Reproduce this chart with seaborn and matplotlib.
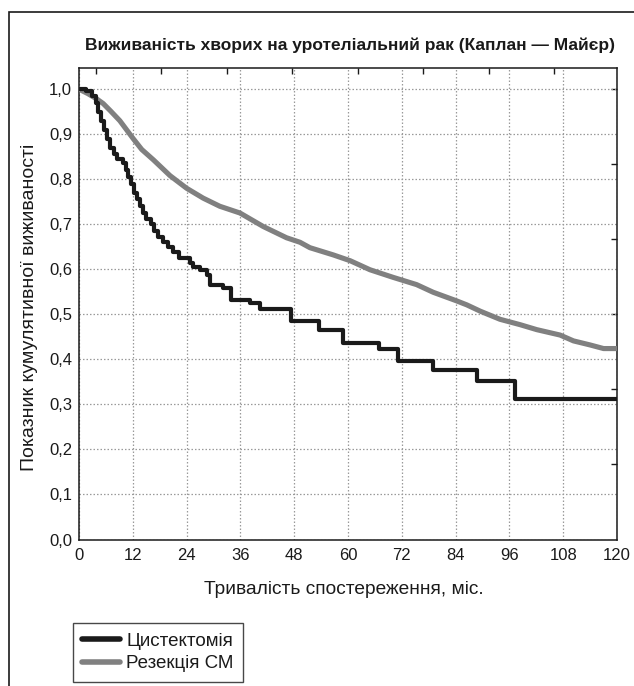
import matplotlib
matplotlib.use("Agg")
import matplotlib.pyplot as plt
from matplotlib import font_manager
from matplotlib.patches import Rectangle
import seaborn as sns
import pandas as pd

# ---- data ----
cyst_t = [0, 1.5, 3.0, 3.7, 4.3, 4.9, 5.5, 6.2, 7.0, 7.8, 8.5, 9.8, 10.4, 11.0, 11.7,
          12.3, 13.0, 13.7, 14.3, 15.0, 16.0, 16.8, 17.7, 18.8, 19.9, 21.0, 22.3, 24.8,
          25.5, 27.0, 28.5, 29.3, 32.2, 33.8, 38.1, 40.4, 47.2, 53.5, 58.8, 67.0, 71.1,
          79.0, 88.7, 97.3, 120]
cyst_s = [1.0, 0.995, 0.985, 0.97, 0.95, 0.93, 0.91, 0.89, 0.87, 0.855, 0.845, 0.835,
          0.82, 0.805, 0.79, 0.77, 0.755, 0.74, 0.725, 0.712, 0.70, 0.685, 0.672, 0.66,
          0.65, 0.638, 0.626, 0.614, 0.606, 0.598, 0.588, 0.566, 0.558, 0.532, 0.526,
          0.512, 0.486, 0.465, 0.437, 0.422, 0.396, 0.376, 0.352, 0.311, 0.311]

res_t = [0, 2, 4, 5.4, 7, 9.1, 12.1, 14, 16.6, 20.3, 24, 27.7, 31.4, 35.9, 41.1, 46.3,
         49.3, 51.5, 56.7, 60.5, 64.9, 70.1, 75.3, 79, 84.2, 86.5, 89.5, 93.9, 98.4,
         102.1, 107.3, 110.3, 114, 117, 120]
res_s = [1.0, 0.99, 0.978, 0.968, 0.952, 0.93, 0.89, 0.866, 0.843, 0.808, 0.78, 0.758,
         0.74, 0.725, 0.695, 0.67, 0.66, 0.648, 0.632, 0.619, 0.599, 0.582, 0.566, 0.549,
         0.53, 0.521, 0.507, 0.489, 0.477, 0.466, 0.454, 0.441, 0.432, 0.424, 0.424]

series_labels = ["Цистектомія", "Резекція СМ"]
x_ticks = [0, 12, 24, 36, 48, 60, 72, 84, 96, 108, 120]
y_ticks = [0.0, 0.1, 0.2, 0.3, 0.4, 0.5, 0.6, 0.7, 0.8, 0.9, 1.0]
y_tick_labels = ["0,0", "0,1", "0,2", "0,3", "0,4", "0,5", "0,6", "0,7", "0,8", "0,9", "1,0"]
top_ticks = [3.8, 18.4, 33.0, 47.6, 62.2, 76.8, 91.4, 106.0]
right_ticks = [1/6, 2/6, 3/6, 4/6, 5/6, 1.0]

title = "Виживаність хворих на уротеліальний рак (Каплан — Майєр)"
xlabel = "Тривалість спостереження, міс."
ylabel = "Показник кумулятивної виживаності"

# ---- style ----
sns.set_theme(style="white")
avail = {f.name for f in font_manager.fontManager.ttflist}
fam = ["Liberation Sans Narrow"] if "Liberation Sans Narrow" in avail else []
fam += ["Liberation Sans", "DejaVu Sans"]
plt.rcParams["font.family"] = fam
plt.rcParams["text.color"] = "#1a1a1a"
plt.rcParams["axes.labelcolor"] = "#1a1a1a"

W, H = 634, 686
fig = plt.figure(figsize=(W / 100, H / 100), dpi=100)
ax = fig.add_axes([79 / W, 1 - 539.5 / H, (617 - 79) / W, (539.5 - 68) / H])

df_c = pd.DataFrame({"t": cyst_t, "s": cyst_s})
df_r = pd.DataFrame({"t": res_t, "s": res_s})

sns.lineplot(data=df_r, x="t", y="s", ax=ax, color="#808080", linewidth=3.7,
             label=series_labels[1], zorder=3, solid_joinstyle="round")
sns.lineplot(data=df_c, x="t", y="s", ax=ax, color="#1a1a1a", linewidth=3.0,
             label=series_labels[0], drawstyle="steps-post", zorder=4)

ax.set_xlim(0, 120)
ax.set_ylim(0, 1.047)
ax.set_xticks(x_ticks)
ax.set_xticklabels([str(v) for v in x_ticks])
ax.set_yticks(y_ticks)
ax.set_yticklabels(y_tick_labels)
ax.grid(True, linestyle=(0, (1.2, 1.6)), color="#9a9a9a", linewidth=0.9)
ax.tick_params(direction="in", length=4, width=1, color="#1a1a1a",
               labelsize=12, labelcolor="#1a1a1a", pad=5)
ax.tick_params(axis="x", pad=6)
for sp in ax.spines.values():
    sp.set_color("#1a1a1a")
    sp.set_linewidth(1.1)

top = ax.secondary_xaxis("top")
top.set_xticks(top_ticks)
top.tick_params(direction="in", length=4, width=1, color="#1a1a1a", labeltop=False)
top.spines["top"].set_visible(False)
right = ax.secondary_yaxis("right")
right.set_yticks(right_ticks)
right.tick_params(direction="in", length=4, width=1, color="#1a1a1a", labelright=False)
right.spines["right"].set_visible(False)

ax.set_xlabel("")
ax.set_ylabel("")
ax.get_legend().remove()

fig.text(350 / W, 1 - 45 / H, title, ha="center", va="center", fontsize=12.5,
         fontweight="bold")
fig.text(344 / W, 1 - 590 / H, xlabel, ha="center", va="center", fontsize=13.8)
fig.text(30 / W, 1 - 307 / H, ylabel, ha="center", va="center", fontsize=14,
         rotation=90)

handles, labels = ax.get_legend_handles_labels()
order = [labels.index(series_labels[0]), labels.index(series_labels[1])]
leg = fig.legend([handles[i] for i in order], [labels[i] for i in order],
                 loc="upper left", bbox_to_anchor=(73 / W, 1 - 623 / H),
                 bbox_transform=fig.transFigure, frameon=True, fancybox=False,
                 fontsize=13.5, handlelength=2.0, handletextpad=0.35,
                 borderpad=0.5, labelspacing=0.3, borderaxespad=0)
leg.get_frame().set_edgecolor("#1a1a1a")
leg.get_frame().set_linewidth(1.0)
for ln in leg.get_lines():
    ln.set_linewidth(4.0)

fig.patches.append(Rectangle((9 / W, -0.1), 1.2, 1 - 12 / H + 0.1,
                             transform=fig.transFigure, fill=False,
                             edgecolor="#1a1a1a", linewidth=1.2))

fig.savefig("out.png", dpi=100)
